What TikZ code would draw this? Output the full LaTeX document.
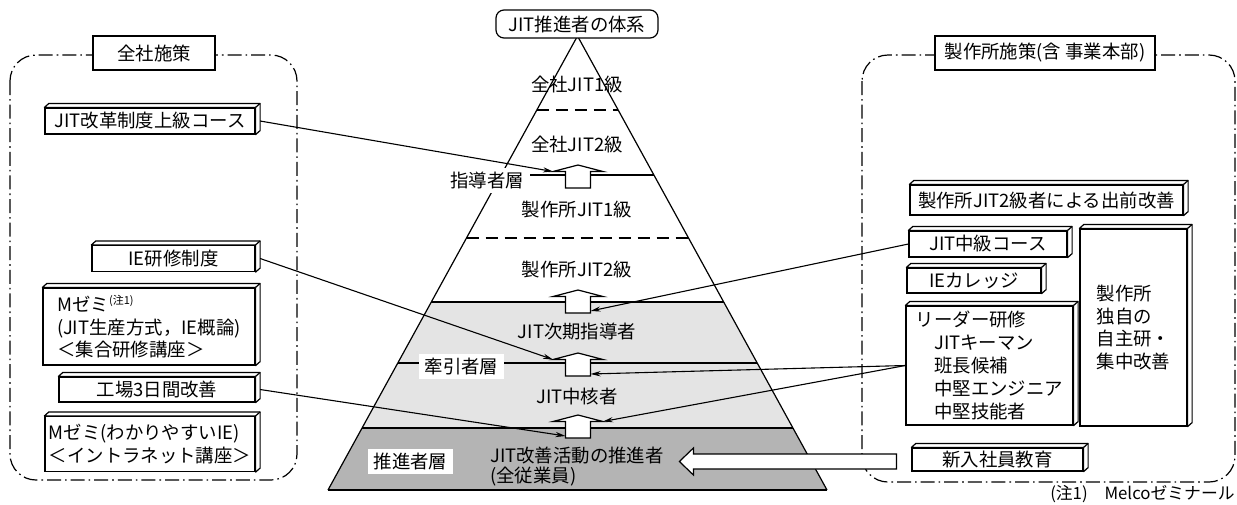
\documentclass[tikz,border=0pt]{standalone}
\usepackage{fontspec}
\setmainfont{Noto Sans CJK JP}
\usetikzlibrary{calc,arrows.meta}
\definecolor{laylight}{HTML}{E4E4E4}
\definecolor{laydark}{HTML}{B4B4B4}
\tikzset{
  every node/.style={font=\fontsize{9.2}{11.25}\selectfont},
  region/.style={line width=0.6pt, dash pattern=on 7pt off 2pt on 0.8pt off 2pt, rounded corners=13pt},
  headbox/.style={draw, fill=white, line width=0.6pt, inner sep=0pt},
  box3d/.style={draw, fill=white, line width=0.6pt, inner sep=0pt},
  face/.style={draw, fill=white, line width=0.6pt, line join=round},
  lvl/.style={line width=0.9pt},
  dlvl/.style={line width=0.6pt, dash pattern=on 6pt off 3.5pt},
  pyredge/.style={line width=0.6pt},
  layerlabel/.style={fill=white, inner xsep=3pt, inner ysep=0pt, minimum height=12.5pt},
  blockarrow/.style={draw, fill=white, line width=0.6pt, line join=miter},
  conn/.style={line width=0.55pt, -{Stealth[length=5pt,width=2.6pt]}},
}
\newcommand{\boxfaces}[1]{%
  \draw[face] (#1.north west) -- ++(4.5,-4) -- ([shift={(4.5,-4)}]#1.north east) -- ([shift={(4.5,-4)}]#1.south east) -- (#1.south east) -- (#1.north east) -- cycle;
  \draw[face] (#1.north east) -- ++(4.5,-4);}
\newcommand{\uparr}[3]{%
  \draw[blockarrow] (#2-12.5,#3) -- (#2-12.5,#3-16.5) -- (#2-25,#3-16.5) -- (#2,#3-23) -- (#2+25,#3-16.5) -- (#2+12.5,#3-16.5) -- (#2+12.5,#3) -- cycle;
  \coordinate (#1-hl) at (#2-25,#3-16.5);
  \coordinate (#1-hr) at (#2+25,#3-16.5);
  \coordinate (#1-sl) at (#2-12.5,#3-2);
  \coordinate (#1-sr) at (#2+12.5,#3-2);}
\begin{document}
\begin{tikzpicture}[x=0.5pt,y=-0.5pt]
\useasboundingbox (0,0) rectangle (1237,504);
% ---------- pyramid ----------
\coordinate (apex) at (577.5,36);
\coordinate (bl) at (328,490);
\coordinate (br) at (827,490);
\foreach \n/\t in {110/0.1630,175/0.3062,238/0.4449,302/0.5859,363/0.7203,428/0.8634}{
  \coordinate (L\n) at ($(apex)!\t!(bl)$);
  \coordinate (R\n) at ($(apex)!\t!(br)$);
}
\fill[laylight] (L302) -- (R302) -- (R428) -- (L428) -- cycle;
\fill[laydark] (L428) -- (R428) -- (br) -- (bl) -- cycle;
\draw[pyredge] (bl) -- (apex) -- (br);
\draw[lvl] (bl) -- (br);
\draw[dlvl] (L110) -- (R110);
\draw[lvl] (L175) -- (R175);
\draw[dlvl] (L238) -- (R238);
\draw[lvl] (L302) -- (R302);
\draw[lvl] (L363) -- (R363);
\draw[lvl] (L428) -- (R428);
\node[draw, fill=white, rounded corners=4pt, line width=0.6pt, minimum width=81pt, minimum height=14pt, inner sep=0pt] (title) at (577,24) {JIT推進者の体系};
\node (p1) at (577,85) {全社JIT1級};
\node (p2) at (577,145) {全社JIT2級};
\node (p3) at (577,210) {製作所JIT1級};
\node (p4) at (577,270) {製作所JIT2級};
\node (p5) at (577,332) {JIT次期指導者};
\node (p6) at (577,397) {JIT中核者};
\node[align=left, font=\fontsize{9.2}{10}\selectfont] (p7) at (577,467) {JIT改善活動の推進者\\(全従業員)};
\node[layerlabel] (lead) at (487,180) {指導者層};
\node[layerlabel] (pull) at (461.5,366.5) {牽引者層};
\node[layerlabel] (prom) at (410.5,461.5) {推進者層};
\uparr{A1}{578}{188}
\uparr{A2}{578}{313}
\uparr{A3}{578}{376}
\uparr{A4}{578}{438}
% ---------- left region ----------
\draw[region] (10,55) rectangle (297,480);
\node[headbox, minimum width=61pt, minimum height=17pt] (lh) at (154,53) {全社施策};
\node[box3d, minimum width=105pt, minimum height=13pt] (b1) at (150,121) {JIT改革制度上級コース};
\node[box3d, minimum width=81.5pt, minimum height=13pt] (b2) at (173.5,258.5) {IE研修制度};
\node[box3d, minimum width=106pt, minimum height=38.5pt, align=left] (b3) at (149,326.5) {Mゼミ\textsuperscript{\fontsize{5.5}{6}\selectfont (注1)}\\(JIT生産方式，IE概論)\\＜集合研修講座＞};
\node[box3d, minimum width=98pt, minimum height=12.5pt] (b4) at (157,389.5) {工場3日間改善};
\node[box3d, minimum width=105pt, minimum height=27.5pt, align=left] (b5) at (150,444) {Mゼミ(わかりやすいIE)\\＜イントラネット講座＞};
\foreach \b in {b1,b2,b3,b4,b5}{\boxfaces{\b}}
% ---------- right region ----------
\draw[region] (862,55) rectangle (1235,482);
\node[headbox, minimum width=110pt, minimum height=17pt] (rh) at (1045,53) {製作所施策(含 事業本部)};
\node[box3d, minimum width=136.5pt, minimum height=15pt] (r1) at (1046.5,200) {製作所JIT2級者による出前改善};
\node[box3d, minimum width=79pt, minimum height=13pt] (r2) at (988,244) {JIT中級コース};
\node[box3d, minimum width=67pt, minimum height=12.5pt] (r3) at (974,280.5) {IEカレッジ};
\node[box3d, minimum width=83.5pt, minimum height=59.5pt, align=left, font=\fontsize{9.2}{11.5}\selectfont] (r4) at (989.5,365.5) {リーダー研修\\\hspace*{1em}JITキーマン\\\hspace*{1em}班長候補\\\hspace*{1em}中堅エンジニア\\\hspace*{1em}中堅技能者};
\node[box3d, minimum width=53.5pt, minimum height=98.5pt, align=left] (r5) at (1133.5,327.5) {製作所\\独自の\\自主研・\\集中改善};
\node[box3d, minimum width=85.5pt, minimum height=11.5pt] (r6) at (997.5,459.5) {新入社員教育};
\foreach \b in {r1,r2,r3,r4,r5,r6}{\boxfaces{\b}}
% ---------- connectors ----------
\draw[conn] ([xshift=2.25pt]b1.east) -- (A1-hl);
\draw[conn] ([xshift=2.25pt]b2.east) -- (A3-hl);
\draw[conn] ([xshift=2.25pt]b4.east) -- (A4-sl);
\draw[conn] (r2.west) -- (A2-sr);
\draw[conn] (r4.west) -- (A3-sr);
\draw[conn] (r4.west) -- (A4-hr);
\draw[blockarrow] ([shift={(-7.5pt,2.75pt)}]r6.west) -- ([shift={(-109pt,2.75pt)}]r6.west) -- ([shift={(-109pt,5.75pt)}]r6.west) -- ([shift={(-116pt,-1pt)}]r6.west) -- ([shift={(-109pt,-7.75pt)}]r6.west) -- ([shift={(-109pt,-4.75pt)}]r6.west) -- ([shift={(-7.5pt,-4.75pt)}]r6.west) -- cycle;
\node[anchor=east, inner sep=0pt, font=\fontsize{8.4}{9}\selectfont] (note) at (1235,494) {(注1)　Melcoゼミナール};
\end{tikzpicture}
\end{document}
